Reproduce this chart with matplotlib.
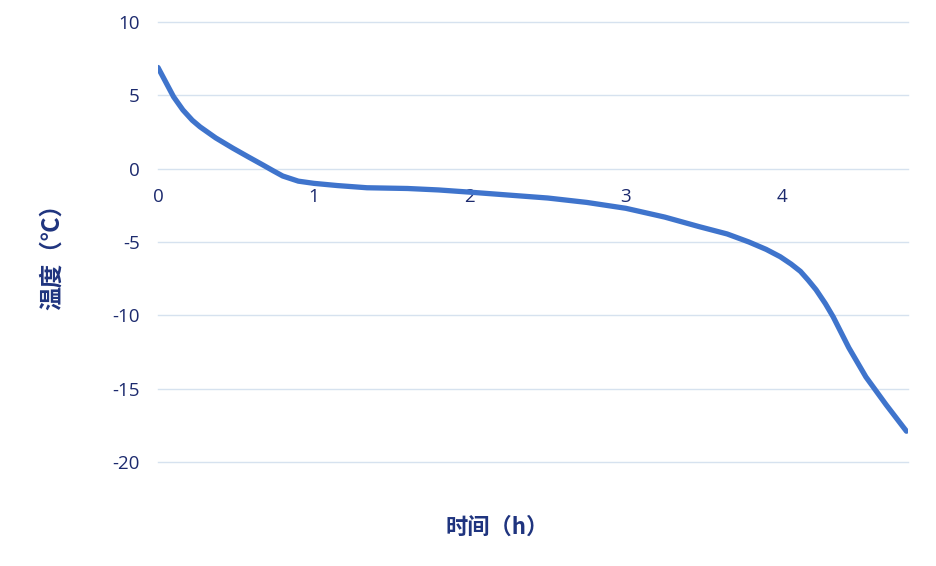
import matplotlib.pyplot as plt

# temperature vs time readings
hours = [0.0, 0.05, 0.1, 0.16, 0.22, 0.27, 0.37, 0.48, 0.58, 0.67, 0.74, 0.80, 0.9, 1.0, 1.15, 1.34,
         1.6, 1.8, 2.0, 2.25, 2.5, 2.75, 3.0, 3.25, 3.47, 3.65, 3.79, 3.9, 3.99,
         4.06, 4.12, 4.17, 4.22, 4.28, 4.33, 4.43, 4.54, 4.67, 4.80]
temps = [6.9, 5.9, 4.9, 4.0, 3.3, 2.85, 2.1, 1.4, 0.8, 0.27, -0.15, -0.5, -0.85, -1.0, -1.15, -1.3,
         -1.35, -1.45, -1.6, -1.8, -2.0, -2.3, -2.7, -3.3, -3.95, -4.45, -5.0, -5.5, -6.0,
         -6.5, -7.0, -7.6, -8.25, -9.2, -10.1, -12.2, -14.2, -16.1, -17.9]
x_ticks = [0, 1, 2, 3, 4]
y_ticks = [-20, -15, -10, -5, 0, 5, 10]

plt.rcParams['font.family'] = ['Open Sans', 'Noto Sans CJK SC', 'DejaVu Sans']
plt.rcParams['axes.unicode_minus'] = False
navy = '#1c2a6e'

fig = plt.figure(figsize=(9.36, 5.66), dpi=100)
ax = fig.add_axes([0.1688, 0.1837, 0.8013, 0.7774])

ax.plot(hours, temps, color='#3f74cc', lw=3.8, solid_capstyle='round', zorder=3)

ax.set_xlim(0, 4.81)
ax.set_ylim(-20, 10)
ax.set_xticks(x_ticks)
ax.set_yticks(y_ticks)
ax.grid(axis='y', color='#d6e2ef', lw=1)
for g in ax.get_ygridlines():
    g.set_clip_on(False)
ax.set_axisbelow(True)

for s in ['top', 'right', 'left']:
    ax.spines[s].set_visible(False)
ax.spines['bottom'].set_position(('data', 0))
ax.spines['bottom'].set_visible(False)

ax.tick_params(axis='x', length=0, pad=14, labelsize=13.5, labelcolor=navy)
ax.tick_params(axis='y', length=0, pad=13, labelsize=13.5, labelcolor=navy)

fig.text(0.531, 0.069, '时间（h）', ha='center', va='center', fontsize=16,
         fontweight='bold', color='#1f347f', family=['Noto Sans CJK SC', 'DejaVu Sans'])
fig.text(0.056, 0.556, '温度（℃）', ha='center', va='center', rotation=90, fontsize=17,
         fontweight='bold', color='#1f347f', family=['Noto Sans CJK SC', 'DejaVu Sans'])

fig.savefig('out.png', dpi=100)
